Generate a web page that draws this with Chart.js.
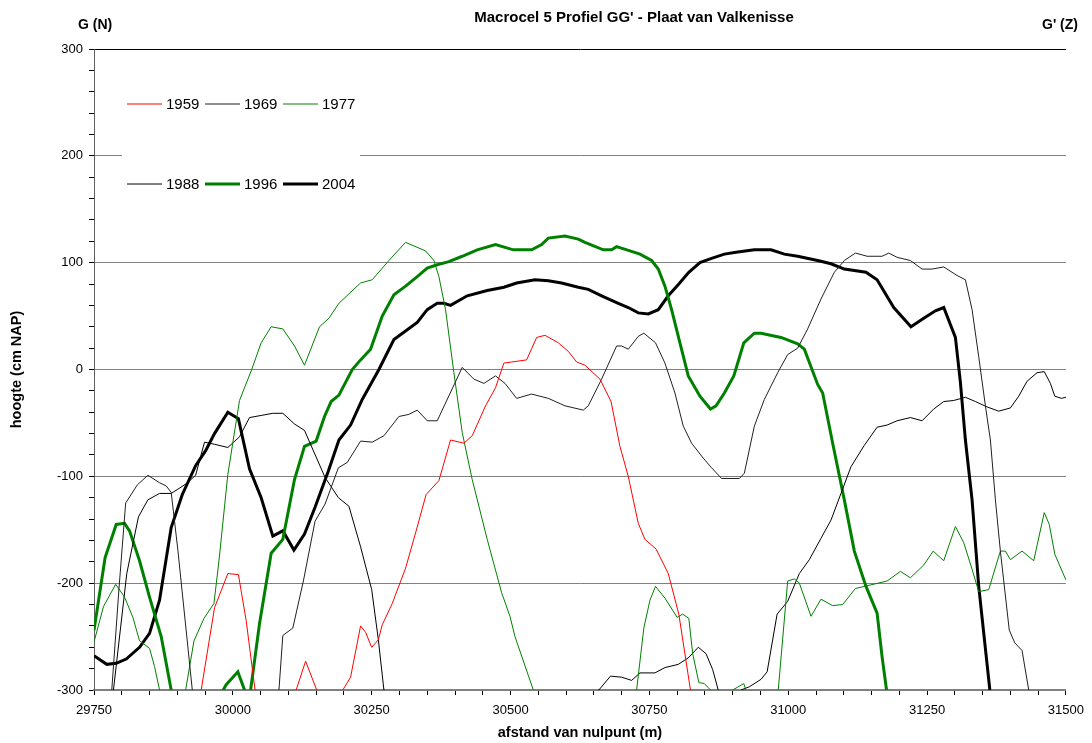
<!DOCTYPE html>
<html>
<head>
<meta charset="utf-8">
<title>Macrocel 5 Profiel GG'</title>
<script src="https://cdn.jsdelivr.net/npm/chart.js@4.4.0/dist/chart.umd.min.js"></script>
<style>
  html, body { margin: 0; padding: 0; background: #fff; }
  #chart-container { width: 1092px; height: 743px; }
</style>
</head>
<body>
<div id="chart-container"><canvas id="profile-chart"></canvas></div>
<script>
// Profile data: distance (m) and height (cm NAP) per survey year.
// Points below -300 are only there so the line leaves the plot and gets clipped.
const arrAfstand1959 = [29900, 29943, 29967, 29991, 30010, 30024, 30040, 30080, 30114, 30131, 30151, 30175, 30198, 30212, 30230, 30239, 30250, 30262, 30269, 30287, 30311, 30329, 30348, 30371, 30392, 30416, 30431, 30455, 30473, 30488, 30502, 30529, 30547, 30562, 30586, 30604, 30619, 30634, 30661, 30681, 30697, 30712, 30730, 30742, 30762, 30784, 30803, 30824, 30840];
const arrHoogte1959  = [-340, -300, -223, -191, -192, -235, -300, -330, -300, -273, -300, -330, -300, -288, -240, -246, -260, -253, -239, -219, -186, -153, -117, -104, -66, -69, -62, -34, -17, 6, 7, 9, 30, 32, 25, 17, 7, 4, -9, -30, -72, -100, -144, -159, -168, -191, -229, -300, -340];

const arrAfstand1969 = [29770, 29782, 29795, 29807, 29828, 29847, 29868, 29880, 29889, 29901, 29927, 30000, 30083, 30090, 30108, 30127, 30148, 30166, 30190, 30206, 30230, 30251, 30272, 30299, 30317, 30332, 30350, 30368, 30413, 30434, 30452, 30473, 30490, 30511, 30538, 30568, 30598, 30631, 30640, 30664, 30691, 30700, 30712, 30730, 30740, 30761, 30778, 30796, 30811, 30826, 30847, 30862, 30880, 30912, 30921, 30939, 30957, 30981, 30999, 31017, 31035, 31059, 31083, 31101, 31121, 31142, 31169, 31181, 31196, 31220, 31241, 31259, 31280, 31304, 31319, 31331, 31343, 31355, 31364, 31373, 31382, 31398, 31408, 31421, 31433, 31450];
const arrHoogte1969  = [-340, -300, -205, -125, -108, -99, -106, -109, -115, -169, -300, -340, -300, -249, -242, -198, -142, -126, -92, -87, -67, -68, -62, -44, -42, -38, -48, -48, 2, -9, -13, -6, -13, -27, -23, -27, -34, -38, -34, -9, 22, 22, 19, 31, 34, 25, 6, -22, -53, -69, -83, -92, -102, -102, -97, -53, -28, -3, 14, 20, 38, 66, 91, 102, 109, 106, 106, 109, 105, 102, 94, 94, 96, 88, 84, 56, 12, -34, -66, -122, -170, -244, -256, -263, -300, -340];

const arrAfstand1977 = [29750, 29767, 29789, 29805, 29820, 29832, 29850, 29859, 29868, 29890, 29915, 29930, 29948, 29966, 29975, 29991, 30012, 30034, 30051, 30069, 30090, 30111, 30129, 30156, 30173, 30191, 30230, 30251, 30281, 30311, 30347, 30362, 30371, 30383, 30398, 30413, 30431, 30458, 30484, 30499, 30508, 30541, 30630, 30727, 30740, 30751, 30761, 30778, 30800, 30810, 30821, 30828, 30839, 30849, 30860, 30880, 30900, 30920, 30930, 30960, 30982, 30999, 31011, 31020, 31041, 31059, 31080, 31098, 31121, 31178, 31202, 31220, 31244, 31261, 31280, 31301, 31316, 31331, 31343, 31361, 31382, 31391, 31400, 31421, 31442, 31461, 31470, 31480, 31500];
const arrHoogte1977  = [-255, -222, -201, -213, -232, -254, -261, -278, -300, -330, -300, -254, -233, -219, -179, -98, -29, 0, 25, 40, 38, 22, 4, 40, 48, 62, 81, 84, 102, 119, 111, 102, 87, 56, -3, -59, -103, -159, -209, -231, -250, -300, -340, -300, -242, -216, -203, -214, -232, -229, -233, -266, -293, -294, -300, -320, -300, -294, -310, -330, -300, -198, -196, -200, -231, -215, -221, -220, -205, -198, -189, -195, -183, -170, -179, -147, -162, -187, -208, -206, -170, -170, -178, -170, -179, -134, -145, -173, -197];

const arrAfstand1988 = [29770, 29785, 29809, 29830, 29847, 29868, 29889, 29916, 29933, 29949, 29967, 29991, 30012, 30030, 30051, 30072, 30090, 30111, 30129, 30166, 30190, 30209, 30230, 30250, 30262, 30272, 30450, 30659, 30680, 30700, 30718, 30733, 30760, 30778, 30802, 30820, 30838, 30852, 30864, 30874, 30895, 30915, 30930, 30951, 30962, 30980, 30999, 31020, 31038, 31059, 31077, 31095, 31113, 31137, 31160, 31178, 31196, 31220, 31241, 31262, 31280, 31298, 31319, 31337, 31358, 31379, 31400, 31415, 31430, 31448, 31461, 31472, 31480, 31492, 31500];
const arrHoogte1988  = [-340, -300, -191, -138, -122, -116, -116, -107, -99, -68, -70, -73, -63, -45, -43, -41, -41, -51, -57, -101, -120, -128, -166, -206, -253, -300, -340, -300, -287, -288, -291, -284, -284, -279, -276, -270, -260, -266, -281, -300, -330, -300, -297, -290, -283, -229, -217, -191, -178, -158, -141, -116, -91, -71, -54, -52, -48, -45, -48, -37, -30, -29, -26, -30, -35, -39, -36, -25, -11, -3, -2, -13, -25, -27, -26];

const arrAfstand1996 = [29750, 29770, 29790, 29805, 29814, 29832, 29850, 29871, 29889, 29940, 29988, 30009, 30021, 30027, 30032, 30048, 30069, 30090, 30111, 30129, 30150, 30165, 30177, 30191, 30215, 30230, 30248, 30269, 30290, 30311, 30332, 30350, 30368, 30389, 30413, 30440, 30473, 30505, 30538, 30556, 30568, 30598, 30622, 30634, 30667, 30682, 30691, 30715, 30733, 30754, 30766, 30778, 30790, 30805, 30820, 30841, 30860, 30870, 30885, 30902, 30920, 30939, 30951, 30987, 31017, 31029, 31053, 31062, 31080, 31101, 31119, 31140, 31160, 31169, 31177, 31200];
const arrHoogte1996  = [-244, -176, -145, -144, -151, -179, -213, -250, -300, -340, -295, -283, -300, -315, -300, -238, -172, -159, -103, -72, -67, -44, -30, -24, 0, 9, 19, 50, 70, 78, 87, 95, 98, 101, 106, 112, 117, 112, 112, 117, 123, 125, 122, 119, 112, 112, 115, 111, 108, 102, 94, 78, 56, 25, -6, -25, -37, -34, -22, -6, 25, 34, 34, 30, 24, 19, -14, -22, -69, -122, -170, -203, -228, -269, -300, -340];

const arrAfstand2004 = [29750, 29773, 29790, 29808, 29832, 29850, 29868, 29889, 29909, 29933, 29951, 29967, 29991, 30010, 30030, 30051, 30072, 30090, 30110, 30129, 30148, 30172, 30191, 30212, 30233, 30263, 30290, 30311, 30332, 30350, 30368, 30380, 30392, 30422, 30458, 30488, 30511, 30544, 30568, 30592, 30622, 30640, 30664, 30694, 30712, 30730, 30748, 30766, 30784, 30803, 30821, 30841, 30862, 30885, 30909, 30939, 30969, 30993, 31017, 31053, 31077, 31101, 31140, 31160, 31190, 31221, 31244, 31265, 31280, 31301, 31310, 31319, 31331, 31343, 31363, 31375];
const arrHoogte2004  = [-268, -276, -275, -271, -260, -247, -216, -148, -117, -90, -76, -60, -40, -46, -93, -120, -156, -151, -169, -154, -129, -95, -66, -52, -28, 0, 28, 36, 44, 56, 62, 62, 60, 69, 74, 77, 81, 84, 83, 81, 77, 75, 69, 62, 58, 53, 52, 56, 69, 80, 91, 100, 104, 108, 110, 112, 112, 108, 106, 102, 99, 94, 91, 84, 58, 40, 48, 55, 58, 30, -12, -66, -122, -203, -300, -340];

// Axis ranges and labelled tick steps
const arrXRange = [29750, 31500];
const arrYRange = [-300, 300];
const nXLabelStep = 250;
const nYLabelStep = 100;

// Titles
const strTitle = "Macrocel 5 Profiel GG' - Plaat van Valkenisse";
const strLeftTag = 'G (N)';
const strRightTag = "G' (Z)";
const strXTitle = 'afstand van nulpunt (m)';
const strYTitle = 'hoogte (cm NAP)';

const strFont = '"Liberation Sans", Arial, Helvetica, sans-serif';

/** Zip two arrays into Chart.js {x, y} points */
function toPoints(arrX, arrY) {
    return arrX.map((x, i) => ({ x: x, y: arrY[i] }));
}

/** Build one line dataset */
function makeLine(strLabel, arrX, arrY, strColor, nWidth) {
    return {
        label: strLabel,
        data: toPoints(arrX, arrY),
        borderColor: strColor,
        backgroundColor: strColor,
        borderWidth: nWidth,
        pointRadius: 0,
        tension: 0,
        fill: false
    };
}

/** Draws the title and the G / G' tags above the plot */
const titlePlugin = {
    id: 'profileTitle',
    afterDraw(chart) {
        const ctx = chart.ctx;
        ctx.save();
        ctx.fillStyle = '#000';
        ctx.textBaseline = 'middle';
        ctx.font = 'bold 15px ' + strFont;
        ctx.textAlign = 'center';
        ctx.fillText(strTitle, 634, 18);
        ctx.font = 'bold 14px ' + strFont;
        ctx.textAlign = 'left';
        ctx.fillText(strLeftTag, 78, 25);
        ctx.textAlign = 'right';
        ctx.fillText(strRightTag, 1078, 25);
        ctx.restore();
    }
};

/** Legend in two rows of three, inside the plot on a white box */
const legendPlugin = {
    id: 'profileLegend',
    afterDraw(chart) {
        const ctx = chart.ctx;
        ctx.save();
        ctx.fillStyle = '#fff';
        ctx.fillRect(122, 66, 238, 134);
        ctx.textBaseline = 'middle';
        ctx.textAlign = 'left';
        ctx.font = '15px ' + strFont;
        chart.data.datasets.forEach((ds, i) => {
            const x = 127 + (i % 3) * 78;
            const y = 104 + Math.floor(i / 3) * 80;
            ctx.strokeStyle = ds.borderColor;
            ctx.lineWidth = ds.borderWidth;
            ctx.beginPath();
            ctx.moveTo(x, y);
            ctx.lineTo(x + 35, y);
            ctx.stroke();
            ctx.fillStyle = '#000';
            ctx.fillText(ds.label, x + 39, y + 1);
        });
        ctx.restore();
    }
};

document.addEventListener('DOMContentLoaded', () => {
    const ctx = document.getElementById('profile-chart').getContext('2d');

    new Chart(ctx, {
        type: 'line',
        data: {
            datasets: [
                makeLine('1959', arrAfstand1959, arrHoogte1959, '#ff0000', 1),
                makeLine('1969', arrAfstand1969, arrHoogte1969, '#202020', 1),
                makeLine('1977', arrAfstand1977, arrHoogte1977, '#008000', 1),
                makeLine('1988', arrAfstand1988, arrHoogte1988, '#000000', 1),
                makeLine('1996', arrAfstand1996, arrHoogte1996, '#008000', 3),
                makeLine('2004', arrAfstand2004, arrHoogte2004, '#000000', 3)
            ]
        },
        options: {
            responsive: true,
            maintainAspectRatio: false,
            animation: false,
            layout: { padding: { top: 49, right: 23, left: 0, bottom: 0 } },
            plugins: {
                legend: { display: false },
                tooltip: { enabled: false }
            },
            scales: {
                x: {
                    type: 'linear',
                    min: arrXRange[0],
                    max: arrXRange[1],
                    afterFit: (scale) => { scale.height = 53; },
                    grid: {
                        drawOnChartArea: false,
                        tickLength: 5,
                        tickColor: '#000'
                    },
                    border: { color: '#808080', width: 2 },
                    ticks: {
                        stepSize: 50,
                        autoSkip: false,
                        maxRotation: 0,
                        padding: 8,
                        color: '#000',
                        font: { family: strFont, size: 13 },
                        callback: (v) => (v % nXLabelStep === 0 ? String(v) : '')
                    },
                    title: {
                        display: true,
                        text: strXTitle,
                        color: '#000',
                        font: { family: strFont, size: 14.5, weight: 'bold' },
                        padding: { top: 0, bottom: 1 }
                    }
                },
                y: {
                    min: arrYRange[0],
                    max: arrYRange[1],
                    afterFit: (scale) => { scale.width = 94; },
                    grid: {
                        tickLength: 5,
                        tickColor: '#000',
                        color: (c) => {
                            const v = c.tick ? c.tick.value : 0;
                            if (v === arrYRange[1]) return '#000';
                            return v % nYLabelStep === 0 ? '#808080' : 'rgba(0,0,0,0)';
                        },
                        lineWidth: 1
                    },
                    border: { color: '#606060', width: 1 },
                    ticks: {
                        stepSize: 20,
                        autoSkip: false,
                        padding: 6,
                        color: '#000',
                        font: { family: strFont, size: 13 },
                        callback: (v) => (v % nYLabelStep === 0 ? String(v) : '')
                    },
                    title: {
                        display: true,
                        text: strYTitle,
                        color: '#000',
                        font: { family: strFont, size: 14.5, weight: 'bold' },
                        padding: { top: 8, bottom: 0 }
                    }
                }
            }
        },
        plugins: [titlePlugin, legendPlugin]
    });
});
</script>
</body>
</html>
